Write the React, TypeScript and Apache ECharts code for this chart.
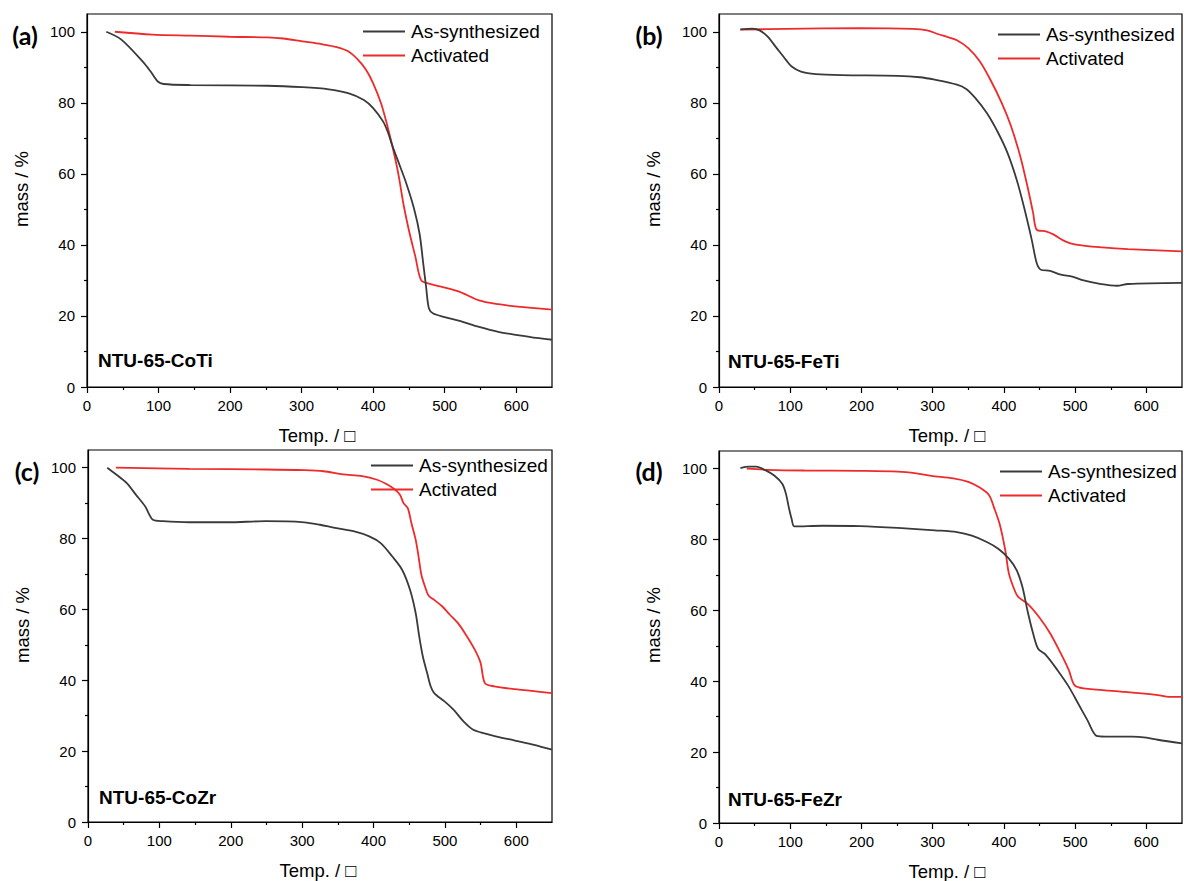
import { useEffect, useRef } from 'react';
import * as echarts from 'echarts';

// ---------- data ----------
const seriesNames = ['As-synthesized', 'Activated'];
const panelLetters = ['(a)', '(b)', '(c)', '(d)'];
const sampleNames = ['NTU-65-CoTi', 'NTU-65-FeTi', 'NTU-65-CoZr', 'NTU-65-FeZr'];
const xTitle = 'Temp. / \u25A1';
const yTitle = 'mass / %';
const xTicks = [0, 100, 200, 300, 400, 500, 600];
const xMinorTicks = [50, 150, 250, 350, 450, 550];
const yTicks = [0, 20, 40, 60, 80, 100];
const yMinorTicks = [10, 30, 50, 70, 90];

// (a) NTU-65-CoTi
const coTiAs: [number, number][] = [
  [27, 100], [48, 97.8], [78, 91.6], [89, 88.8], [99, 86.0], [107, 85.3], [145, 85.0],
  [252, 84.8], [301, 84.4], [338, 83.8], [365, 82.7], [387, 80.8], [400, 78.5], [414, 74.7],
  [421, 71.5], [427, 67.8], [435, 63.5], [446, 57.5], [457, 50.3], [465, 43.0], [470, 34.8],
  [474, 28.2], [478, 22.1], [484, 20.7], [500, 19.7], [521, 18.6], [548, 16.9], [575, 15.5],
  [602, 14.6], [628, 13.8], [650, 13.3],
];
const coTiAct: [number, number][] = [
  [39, 100], [91, 99.2], [145, 98.9], [199, 98.6], [252, 98.4], [274, 98.1], [301, 97.3],
  [328, 96.5], [349, 95.7], [365, 94.5], [379, 92.1], [390, 89.3], [400, 85.5], [411, 79.9],
  [419, 74.2], [427, 67.7], [435, 60.2], [443, 50.8], [451, 43.2], [459, 36.7], [467, 30.1],
  [478, 29.1], [500, 28.0], [521, 26.8], [548, 24.4], [575, 23.3], [602, 22.6], [650, 21.8],
];

// (b) NTU-65-FeTi
const feTiAs: [number, number][] = [
  [30, 100.7], [47, 100.9], [57, 100.4], [68, 98.7], [81, 95.4], [94, 92.1], [102, 90.2],
  [115, 88.8], [136, 88.1], [172, 87.8], [251, 87.6], [282, 87.2], [303, 86.5], [334, 85.1],
  [347, 83.9], [360, 81.3], [376, 77.1], [392, 71.5], [405, 65.9], [418, 58.3], [428, 50.8],
  [439, 41.5], [446, 34.9], [452, 33.0], [465, 32.7], [480, 31.6], [496, 31.1], [512, 30.0],
  [533, 29.1], [559, 28.5], [574, 29.0], [650, 29.3],
];
const feTiAct: [number, number][] = [
  [30, 100.6], [94, 100.8], [198, 101.0], [272, 100.8], [292, 100.4], [308, 99.3], [321, 98.5],
  [334, 97.6], [350, 95.4], [366, 91.7], [381, 86.5], [397, 79.9], [410, 73.4], [423, 64.9],
  [433, 56.5], [441, 49.0], [446, 44.3], [459, 43.8], [470, 42.9], [486, 41.0], [501, 40.1],
  [538, 39.3], [574, 38.8], [650, 38.2],
];

// (c) NTU-65-CoZr
const coZrAs: [number, number][] = [
  [27, 100], [40, 98.0], [54, 95.7], [67, 92.4], [80, 89.1], [91, 85.3], [105, 84.9],
  [142, 84.6], [196, 84.6], [249, 84.9], [303, 84.6], [325, 83.9], [346, 83.0], [373, 82.0],
  [394, 80.6], [410, 78.7], [426, 75.0], [440, 71.2], [451, 65.6], [459, 59.0], [464, 52.4],
  [469, 46.8], [475, 42.1], [480, 38.3], [485, 36.4], [499, 34.1], [512, 31.7], [526, 28.4],
  [539, 26.1], [550, 25.3], [571, 24.2], [598, 23.0], [625, 21.8], [650, 20.4],
];
const coZrAct: [number, number][] = [
  [39, 100], [142, 99.7], [249, 99.5], [303, 99.3], [330, 99.0], [357, 98.1], [384, 97.6],
  [405, 96.6], [418, 95.4], [429, 94.0], [437, 92.4], [442, 90.0], [448, 88.6], [453, 84.4],
  [459, 79.7], [463, 75.0], [467, 69.8], [472, 66.5], [477, 63.9], [485, 62.7], [496, 60.9],
  [507, 58.5], [518, 56.2], [528, 53.3], [542, 48.6], [550, 44.9], [556, 39.2], [569, 38.3],
  [598, 37.5], [650, 36.4],
];

// (d) NTU-65-FeZr
const feZrAs: [number, number][] = [
  [30, 100.2], [42, 100.6], [52, 100.6], [65, 99.6], [78, 98.0], [89, 95.7], [94, 92.9],
  [98, 89.1], [102, 85.8], [106, 83.7], [146, 83.9], [198, 83.8], [251, 83.3], [303, 82.6],
  [334, 82.1], [355, 81.1], [376, 79.3], [392, 77.4], [407, 74.6], [418, 71.3], [426, 66.6],
  [433, 60.0], [441, 53.5], [448, 49.2], [459, 47.4], [475, 43.2], [491, 38.5], [504, 33.8],
  [517, 29.1], [530, 24.6], [543, 24.4], [580, 24.4], [600, 24.1], [616, 23.5], [650, 22.5],
];
const feZrAct: [number, number][] = [
  [39, 100], [68, 99.7], [120, 99.5], [198, 99.4], [251, 99.2], [277, 98.7], [298, 98.0],
  [329, 97.3], [350, 96.3], [366, 94.7], [379, 92.6], [386, 89.1], [394, 84.4], [402, 76.9],
  [407, 70.4], [415, 65.7], [420, 63.8], [433, 61.9], [449, 58.2], [465, 53.5], [480, 47.8],
  [491, 43.2], [499, 38.9], [512, 38.0], [564, 37.1], [616, 36.1], [632, 35.6], [650, 35.6],
];

const panelData = [
  [coTiAs, coTiAct],
  [feTiAs, feTiAct],
  [coZrAs, coZrAct],
  [feZrAs, feZrAct],
];

// ---------- layout ----------
const FONT = "'Liberation Sans', Arial, sans-serif";
const grids = [
  { left: 87, top: 14, width: 465, height: 373 },
  { left: 719, top: 14, width: 463, height: 373 },
  { left: 88, top: 450, width: 464, height: 372 },
  { left: 719, top: 451, width: 463, height: 372 },
];
const legendPos = [
  { left: 363, top: 22 },
  { left: 998, top: 25 },
  { left: 371, top: 456 },
  { left: 1000, top: 462 },
];
const letterPos = [[25, 35], [649, 35], [27, 471], [649, 471]];
const samplePos = [[98, 360], [728, 361], [99, 797], [728, 799]];
const yTitlePos = [[21, 189], [653, 189], [22, 625], [653, 625]];
const xTitlePos = [[317, 435], [947, 435], [318, 870], [947, 871]];
const colors = ['#3a3a3a', '#ee2a2a'];

function buildOption() {
  const xAxis: any[] = [];
  const yAxis: any[] = [];
  const series: any[] = [];
  const legend: any[] = [];
  const graphic: any[] = [];
  grids.forEach((g, i) => {
    const lineStyle = { color: '#000', width: 1.2 };
    xAxis.push({
      gridIndex: i, type: 'value', min: 0, max: 650, position: 'bottom',
      axisLine: { show: true, onZero: false, lineStyle },
      axisTick: { show: true, length: 6, customValues: xTicks, lineStyle },
      axisLabel: { customValues: xTicks, margin: 11, fontSize: 15, color: '#000', fontFamily: FONT },
      splitLine: { show: false },
    });
    xAxis.push({
      gridIndex: i, type: 'value', min: 0, max: 650, position: 'bottom',
      axisLine: { show: false },
      axisTick: { show: true, length: 3, customValues: xMinorTicks, lineStyle },
      axisLabel: { show: false },
      splitLine: { show: false },
    });
    yAxis.push({
      gridIndex: i, type: 'value', min: 0, max: 105, position: 'left',
      axisLine: { show: true, onZero: false, lineStyle },
      axisTick: { show: true, length: 6, customValues: yTicks, lineStyle },
      axisLabel: { customValues: yTicks, margin: 12, fontSize: 15, color: '#000', fontFamily: FONT },
      splitLine: { show: false },
    });
    yAxis.push({
      gridIndex: i, type: 'value', min: 0, max: 105, position: 'left',
      axisLine: { show: false },
      axisTick: { show: true, length: 3, customValues: yMinorTicks, lineStyle },
      axisLabel: { show: false },
      splitLine: { show: false },
    });
    panelData[i].forEach((d, k) => {
      series.push({
        type: 'line', name: seriesNames[k], xAxisIndex: 2 * i, yAxisIndex: 2 * i,
        data: d, symbol: 'none', showSymbol: false, smooth: 0.3,
        lineStyle: { color: colors[k], width: 1.8 }, itemStyle: { color: colors[k] },
        z: k === 0 ? 3 : 2,
      });
    });
    legend.push({
      data: seriesNames.map((n) => ({ name: n, icon: 'rect' })),
      orient: 'vertical', left: legendPos[i].left, top: legendPos[i].top,
      itemWidth: 42, itemHeight: 2, itemGap: 5, padding: 0, selectedMode: false,
      textStyle: { fontSize: 19, color: '#000', fontFamily: FONT, padding: [0, 0, 0, 1] },
    });
    graphic.push({
      type: 'text', x: letterPos[i][0], y: letterPos[i][1],
      style: { text: panelLetters[i], fontSize: 25, fontWeight: 'bold', fontFamily: "Lato, 'Open Sans', sans-serif", fill: '#000', align: 'center', verticalAlign: 'middle' },
    });
    graphic.push({
      type: 'text', x: samplePos[i][0], y: samplePos[i][1],
      style: { text: sampleNames[i], fontSize: 19, fontWeight: 'bold', fontFamily: FONT, fill: '#000', align: 'left', verticalAlign: 'middle' },
    });
    graphic.push({
      type: 'text', x: yTitlePos[i][0], y: yTitlePos[i][1], rotation: Math.PI / 2,
      style: { text: yTitle, fontSize: 18.5, fontFamily: FONT, fill: '#000', align: 'center', verticalAlign: 'middle' },
    });
    graphic.push({
      type: 'text', x: xTitlePos[i][0], y: xTitlePos[i][1],
      style: { text: xTitle, fontSize: 18.5, fontFamily: FONT, fill: '#000', align: 'center', verticalAlign: 'middle' },
    });
  });
  return {
    animation: false,
    backgroundColor: '#fff',
    grid: grids.map((g) => ({ ...g, show: true, borderColor: '#000', borderWidth: 1.2, backgroundColor: 'transparent' })),
    xAxis, yAxis, series, legend, graphic,
  };
}

export default function App() {
  const ref = useRef<HTMLDivElement>(null);
  useEffect(() => {
    if (!ref.current) return;
    const chart = echarts.init(ref.current, undefined, { renderer: 'svg' });
    chart.setOption(buildOption() as any);
    return () => chart.dispose();
  }, []);
  return <div ref={ref} style={{ position: 'absolute', left: 0, top: 0, width: 1184, height: 881 }} />;
}
